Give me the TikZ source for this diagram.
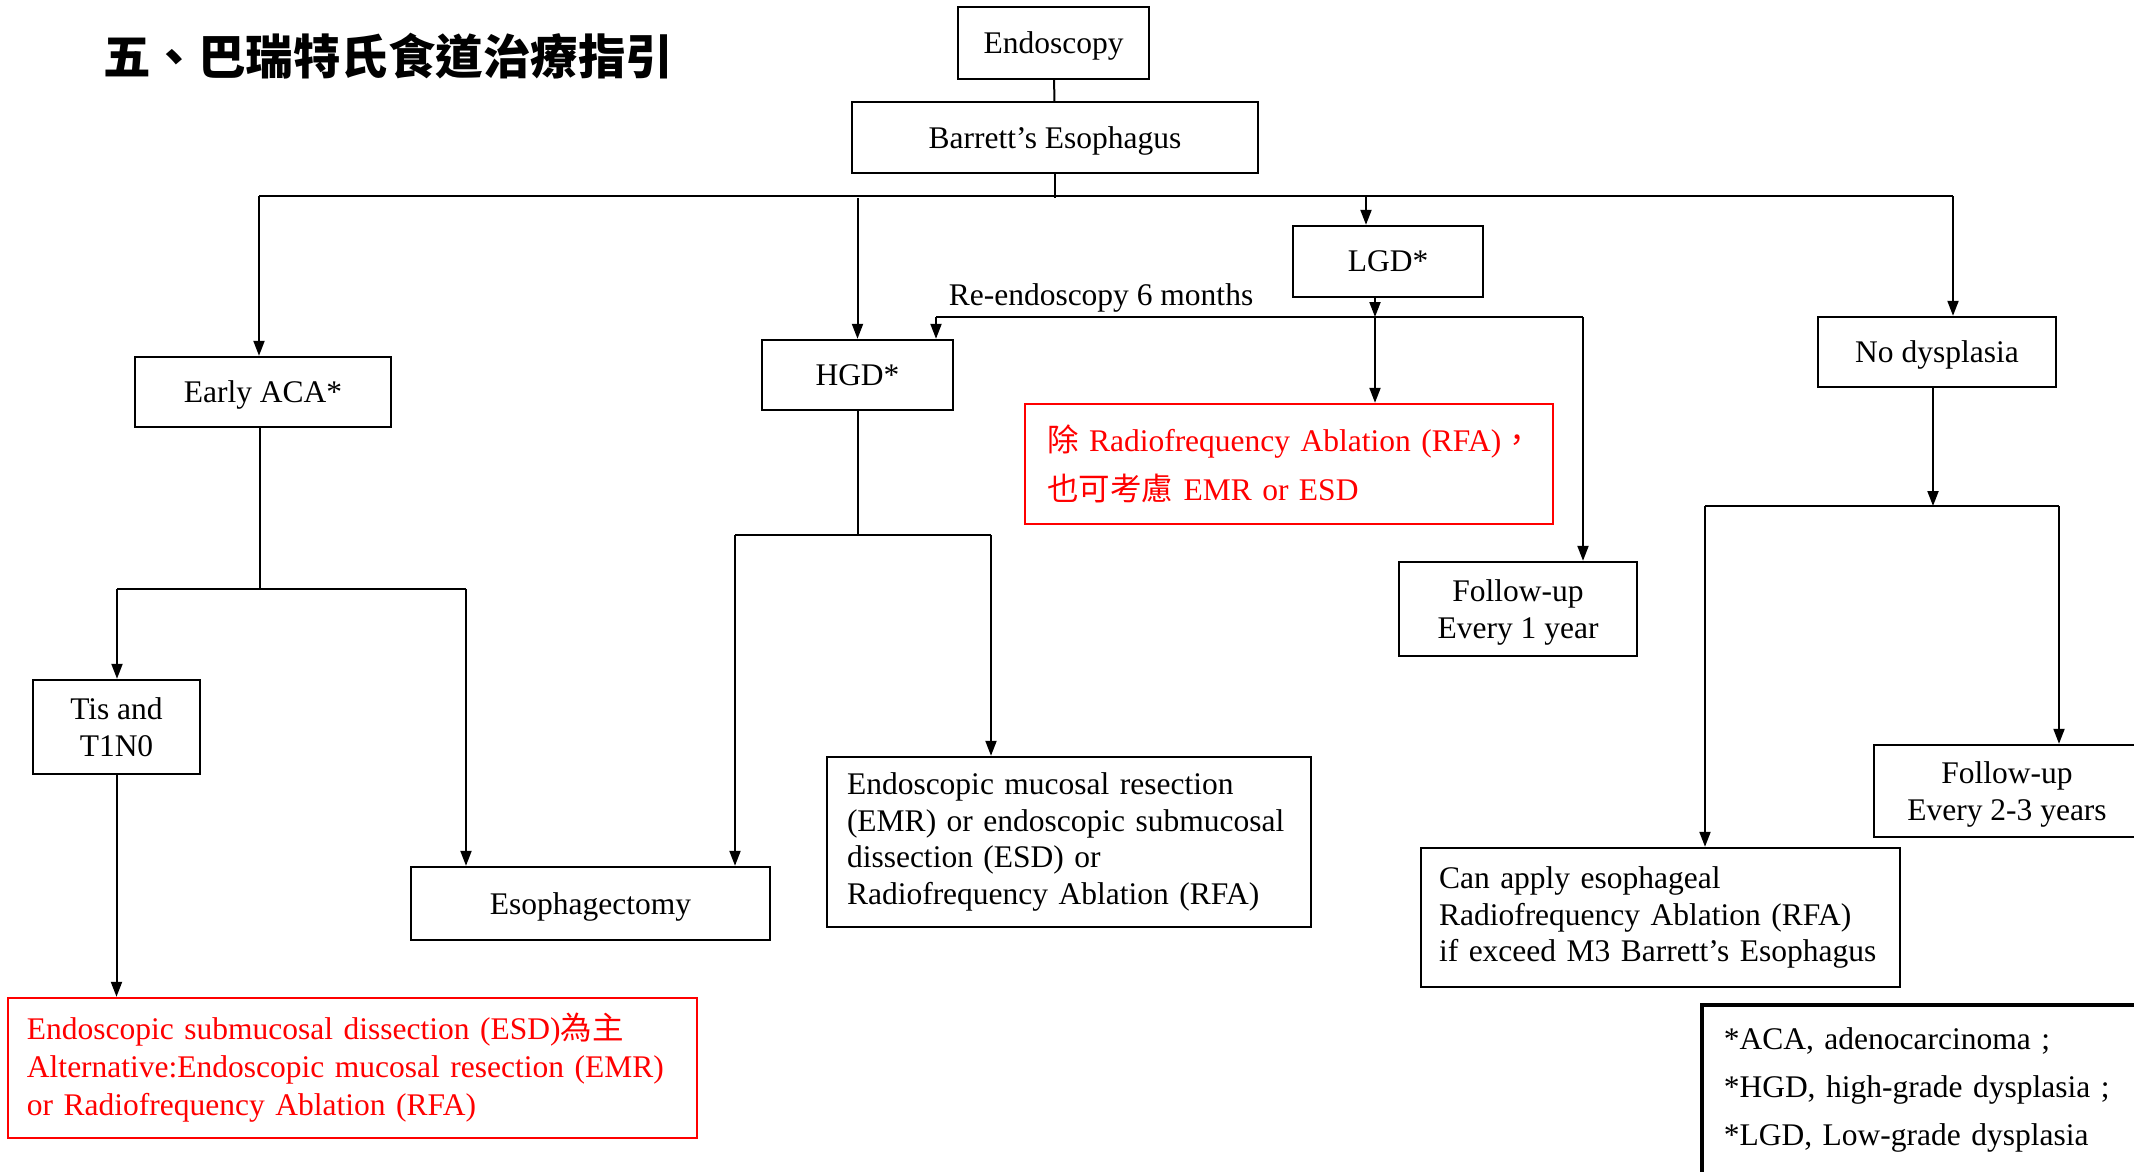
\documentclass[tikz,border=0pt]{standalone}
\usepackage{fontspec}
\setmainfont{Liberation Serif}
\newfontfamily\cjk{Noto Sans CJK TC}
\usepackage{tikz}
\usetikzlibrary{positioning, arrows.meta, calc}
\newcommand\fs{\fontsize{31.5pt}{36.75pt}\selectfont}

\begin{document}
\begin{tikzpicture}[x=1pt, y=-1pt, line width=2pt, >={Triangle[length=15pt,width=11pt]},
    frame/.style={draw, line width=2.4pt, font=\fs, align=center, inner sep=0pt},
    box/.style={frame, text depth=0pt},
    redbox/.style={frame, draw=red, text=red, align=left}]
  \useasboundingbox (0,0) rectangle (2134,1171);
           \node[font={\cjk\bfseries\fontsize{47.5pt}{50pt}\selectfont}] (title) at (388,56) {五、巴瑞特氏食道治療指引};
           \node[box, minimum width=191, minimum height=72] (endo) at (1053.5,43) {Endoscopy};
           \node[box, minimum width=406, minimum height=71] (barrett) at (1055,137.5) {Barrett’s Esophagus};
           \node[box, minimum width=256, minimum height=70] (aca) at (263,392) {Early ACA*};
           \node[box, minimum width=191, minimum height=70] (hgd) at (857.5,375) {HGD*};
           \node[box, minimum width=190, minimum height=71] (lgd) at (1388,261.5) {LGD*};
           \node[box, minimum width=238, minimum height=70] (nod) at (1937,352) {No dysplasia};
           \node[redbox, font={\fontsize{31.5pt}{49pt}\selectfont}, text width=508, inner xsep=10, minimum height=120] (rfa) at (1289,464)
                {\hspace*{12pt}{\cjk 除} Radiofrequency Ablation (RFA){\cjk ，}\\\hspace*{12pt}{\cjk 也可考慮} EMR or ESD};
           \node[box, minimum width=238, minimum height=94] (fu1) at (1518,609) {Follow-up\\Every 1 year};
           \node[box, minimum width=167, minimum height=94] (tis) at (116.5,727) {Tis and\\T1N0};
           \node[redbox, font={\fontsize{31.5pt}{38pt}\selectfont}, text width=651, inner xsep=19, minimum height=140] (esd) at (352.5,1068)
                {Endoscopic submucosal dissection (ESD){\cjk 為主}\\Alternative:Endoscopic mucosal resection (EMR)\\or Radiofrequency Ablation (RFA)};
           \node[box, minimum width=359, minimum height=73] (esoph) at (590.5,903.5) {Esophagectomy};
           \node[frame, align=left, text width=444, inner xsep=20, minimum height=170] (emr) at (1069,842)
                {Endoscopic mucosal resection\\(EMR) or endoscopic submucosal\\dissection (ESD) or\\Radiofrequency Ablation (RFA)};
           \node[box, minimum width=266, minimum height=92] (fu2) at (2007,791) {Follow-up\\Every 2-3 years};
           \node[frame, align=left, text width=443, inner xsep=18, minimum height=139] (can) at (1660.5,917.5)
                {Can apply esophageal\\Radiofrequency Ablation (RFA)\\if exceed M3 Barrett’s Esophagus};
           \node[frame, line width=3.5pt, anchor=north west, align=left, text width=420, inner xsep=22, minimum height=170,
                 font={\fontsize{31.5pt}{48pt}\selectfont}] (note) at (1700,1003)
                {*ACA, adenocarcinoma ;\\{}*HGD, high-grade dysplasia ;\\{}*LGD, Low-grade dysplasia};
           \node[font=\fs] (relbl) at (1101,298) {Re-endoscopy 6 months};

           \coordinate (top) at (1055,198);
           \coordinate (topl) at (259,196);
           \coordinate (topr) at (1953,196);
           \coordinate (lgdin) at (1366,196);
           \coordinate (lgdj) at (1375,317);
           \coordinate (rehgd) at (936,317);
           \coordinate (refu) at (1583,317);
           \coordinate (acaj) at (260,589);
           \coordinate (acal) at (117,589);
           \coordinate (acar) at (466,589);
           \coordinate (hgdj) at (857.5,535);
           \coordinate (hgdl) at (735,535);
           \coordinate (hgdr) at (991,535);
           \coordinate (nodj) at (1933,506);
           \coordinate (nodl) at (1705,506);
           \coordinate (nodr) at (2059,506);

            \draw (endo) -- (barrett);
            \draw (barrett) -- (top);
            \draw[line width=2.5pt] (topl) -- (topr);
            \path[->]
            (topl) edge (aca.north -| topl)
            (top -| hgd) edge (hgd)
            (lgdin) edge (lgd.north -| lgdin)
            (topr) edge (nod.north -| topr);

            \draw[->] (lgd.south -| lgdj) -- (lgdj);
            \draw[line width=2.5pt] (rehgd) -- (refu);
            \path[->]
            (rehgd) edge (hgd.north -| rehgd)
            (lgdj) edge (rfa.north -| lgdj)
            (refu) edge (fu1.north -| refu);

            \draw (aca.south -| acaj) -- (acaj);
            \draw[line width=2.5pt] (acal) -- (acar);
            \path[->]
            (acal) edge (tis.north -| acal)
            (acar) edge (esoph.north -| acar)
            (tis) edge (esd.north -| tis);

            \draw (hgd) -- (hgdj);
            \draw[line width=2.5pt] (hgdl) -- (hgdr);
            \path[->]
            (hgdl) edge (esoph.north -| hgdl)
            (hgdr) edge (emr.north -| hgdr);

            \draw[->] (nod.south -| nodj) -- (nodj);
            \draw[line width=2.5pt] (nodl) -- (nodr);
            \path[->]
            (nodl) edge (can.north -| nodl)
            (nodr) edge (fu2.north -| nodr);
        \end{tikzpicture}
\end{document}
